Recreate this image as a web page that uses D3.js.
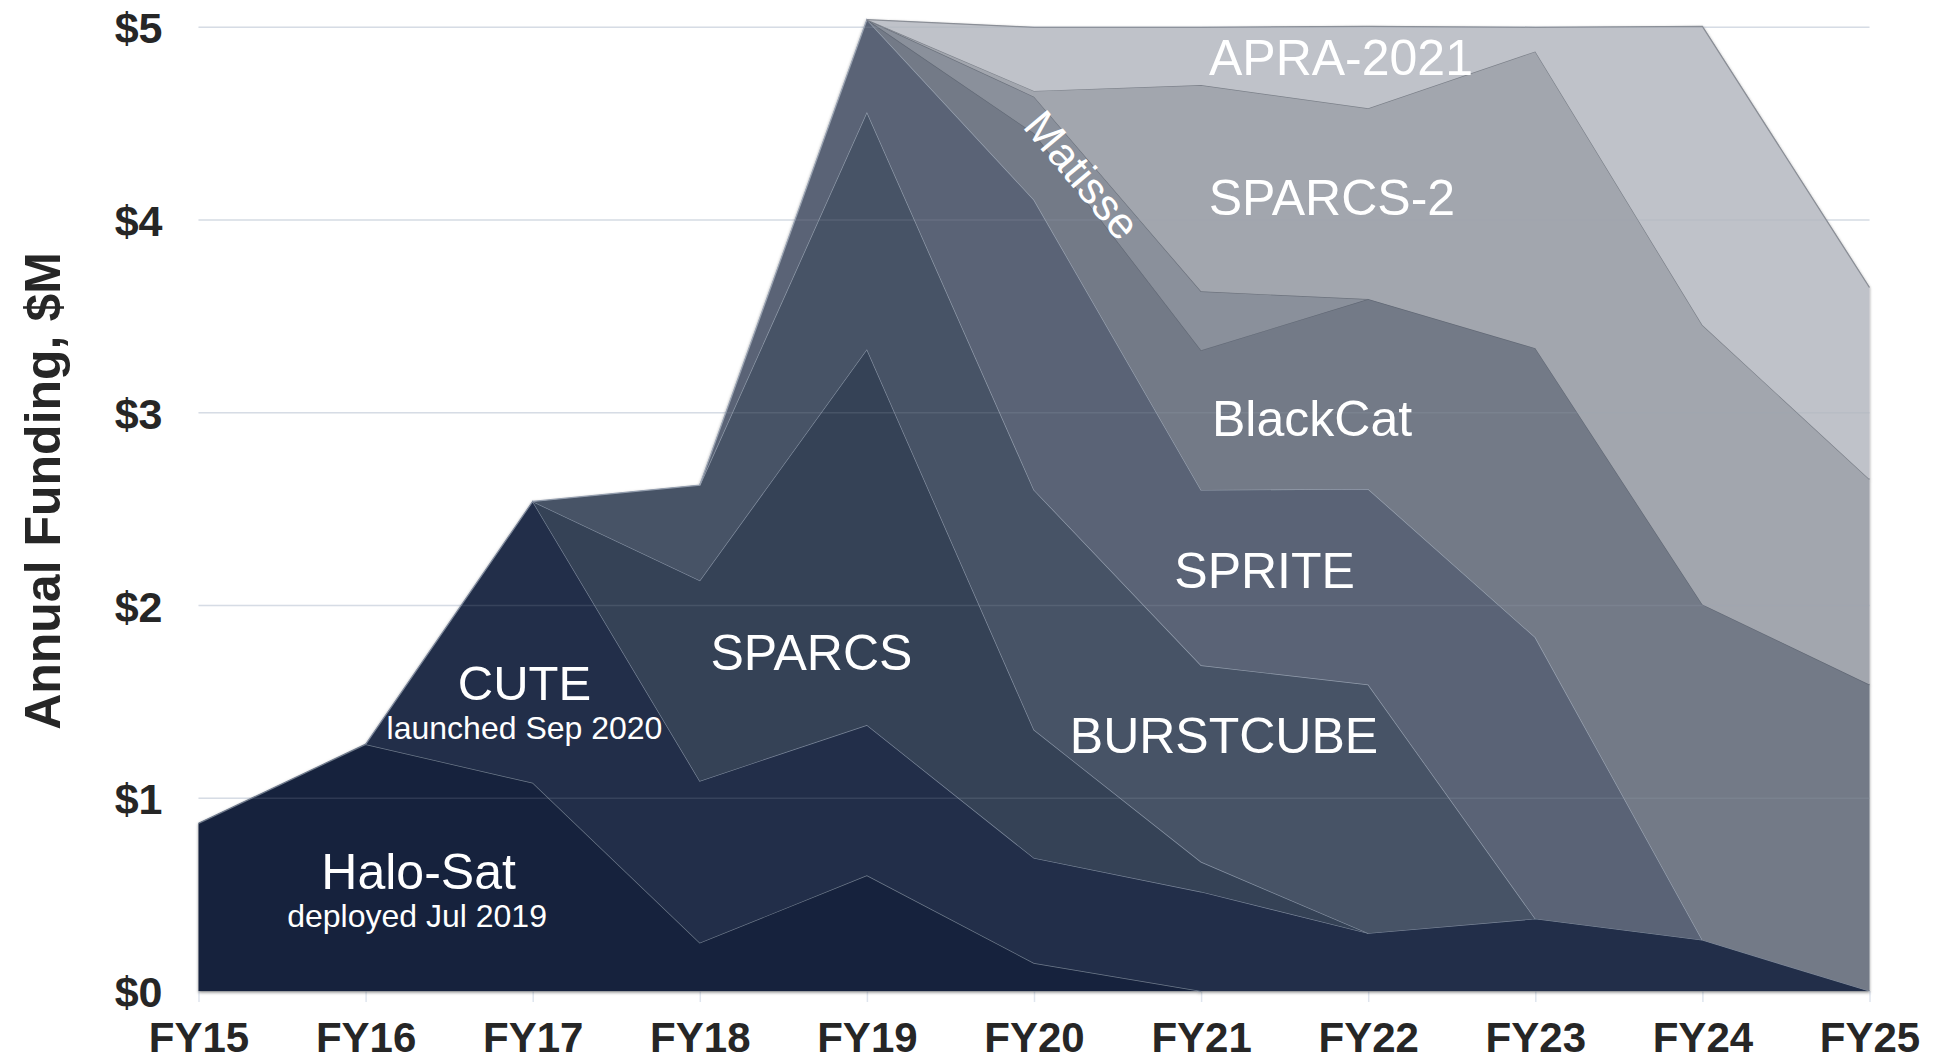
<!DOCTYPE html>
<html>
<head>
<meta charset="utf-8">
<script src="https://cdn.jsdelivr.net/npm/d3@7"></script>
<style>
	body { margin: 0; background: #fff; }
	svg { display: block; }
	.axis text { font-family: "Liberation Sans", Arial, sans-serif; font-weight: bold; font-size: 43px; fill: #262626; }
	.x.axis text { font-size: 42px; }
	.axis path.domain { display: none; }
	.x.axis line { stroke: #dfe5ee; stroke-width: 1.5px; }
	.label { font-family: "Liberation Sans", Arial, sans-serif; fill: #fff; text-anchor: middle; }
</style>
</head>
<body>
<div id="graphic"></div>
<script>
// fiscal years along the bottom
const years = ['FY15', 'FY16', 'FY17', 'FY18', 'FY19', 'FY20', 'FY21', 'FY22', 'FY23', 'FY24', 'FY25'];

// annual funding per mission, $M
const haloSat   = [0.87, 1.28, 1.08, 0.25, 0.60, 0.145, 0, 0, 0, 0, 0];
const cute      = [0, 0, 1.46, 0.84, 0.78, 0.545, 0.515, 0.30, 0.375, 0.265, 0];
const sparcs    = [0, 0, 0, 1.04, 1.95, 0.665, 0.155, 0, 0, 0, 0];
const burstcube = [0, 0, 0, 0.495, 1.23, 1.245, 1.02, 1.29, 0, 0, 0];
const sprite    = [0, 0, 0, 0, 0.48, 1.505, 0.91, 1.015, 1.46, 0, 0];
const blackcat  = [0, 0, 0, 0, 0, 0.345, 0.725, 0.985, 1.50, 1.74, 1.59];
const matisse   = [0, 0, 0, 0, 0, 0.19, 0.305, 0, 0, 0, 0];
const sparcs2   = [0, 0, 0, 0, 0, 0.03, 1.07, 0.99, 1.54, 1.45, 1.065];
const apra2021  = [0, 0, 0, 0, 0, 0.33, 0.30, 0.425, 0.125, 1.55, 0.995];

const seriesNames = ['Halo-Sat', 'CUTE', 'SPARCS', 'BURSTCUBE', 'SPRITE', 'BlackCat', 'Matisse', 'SPARCS-2', 'APRA-2021'];
const seriesValues = [haloSat, cute, sparcs, burstcube, sprite, blackcat, matisse, sparcs2, apra2021];
const yTicks = [0, 1, 2, 3, 4, 5];

const fills = ['#17233c', '#212f49', '#344257', '#475366', '#5a6476', '#737a87', '#8a909b', '#a2a6ae', '#bfc2c9'];
const edges = ['#6f7a8c', '#7d879a', '#8792a3', '#939dad', '#9aa3b2', '#626976', '#6c727d', '#7c818a', '#8a8e96'];

// label anchors, in year-index / $M units
const labels = [
	{ text: 'Halo-Sat', x: 1.317, y: 0.53, size: 50 },
	{ text: 'deployed Jul 2019', x: 1.308, y: 0.332, size: 32 },
	{ text: 'CUTE', x: 1.951, y: 1.51, size: 49 },
	{ text: 'launched Sep 2020', x: 1.951, y: 1.307, size: 32 },
	{ text: 'SPARCS', x: 3.668, y: 1.665, size: 50 },
	{ text: 'BURSTCUBE', x: 6.137, y: 1.235, size: 50 },
	{ text: 'SPRITE', x: 6.38, y: 2.091, size: 50 },
	{ text: 'BlackCat', x: 6.664, y: 2.882, size: 50 },
	{ text: 'SPARCS-2', x: 6.783, y: 4.026, size: 50 },
	{ text: 'APRA-2021', x: 6.837, y: 4.75, size: 50 },
	{ text: 'Matisse', x: 5.29, y: 4.234, size: 44, angle: 50 }
];

const width = 1934, height = 1064;
const margin = { top: 27.3, right: 64.5, bottom: 73, left: 198.5 };
const chart_width = width - margin.left - margin.right;
const chart_height = height - margin.top - margin.bottom;

// tidy table: one row per year
const table = years.map((fy, i) => {
	const row = { i: i, fy: fy };
	seriesNames.forEach((name, k) => { row[name] = seriesValues[k][i]; });
	return row;
});

const stacked = d3.stack().keys(seriesNames)(table);

const x = d3.scaleLinear().domain([0, years.length - 1]).range([0, chart_width]);
const y = d3.scaleLinear().domain([0, 5]).range([chart_height, 0]);

const svg = d3.select('#graphic').append('svg')
	.attr('width', width)
	.attr('height', height);

const defs = svg.append('defs');
defs.append('filter')
	.attr('id', 'shadow')
	.attr('x', '-5%').attr('y', '-5%').attr('width', '110%').attr('height', '110%')
	.append('feDropShadow')
	.attr('dx', 0).attr('dy', 1.5)
	.attr('stdDeviation', 1.6)
	.attr('flood-color', '#000')
	.attr('flood-opacity', 0.45);

const g = svg.append('g').attr('transform', 'translate(' + margin.left + ',' + margin.top + ')');

// gridlines under the areas
g.append('g')
	.selectAll('line')
	.data(yTicks)
	.join('line')
	.attr('x1', 0).attr('x2', chart_width)
	.attr('y1', d => y(d)).attr('y2', d => y(d))
	.attr('stroke', '#e3e8ef')
	.attr('stroke-width', 1.5);

// x axis ticks and labels
const xAxis = g.append('g')
	.attr('class', 'x axis')
	.attr('transform', 'translate(0,' + chart_height + ')')
	.call(d3.axisBottom(x)
		.tickValues(d3.range(years.length))
		.tickFormat(i => years[i])
		.tickSize(11));
xAxis.selectAll('text').attr('y', 61).attr('dy', 0);

// y axis labels
const yAxis = g.append('g')
	.attr('class', 'y axis')
	.call(d3.axisLeft(y)
		.tickValues(yTicks)
		.tickFormat(d => '$' + d)
		.tickSize(0)
		.tickPadding(36));
yAxis.selectAll('text').attr('dy', '0.36em');

// only draw a layer where it exists, plus the zero points on either side
function span(values) {
	const first = values.findIndex(v => v > 0);
	let last = values.length - 1;
	while (last > 0 && !(values[last] > 0)) last--;
	return [Math.max(0, first - 1), Math.min(values.length - 1, last + 1)];
}

const layers = g.append('g').attr('filter', 'url(#shadow)');

stacked.forEach((layer, k) => {
	const [a, b] = span(seriesValues[k]);
	const defined = (d, i) => i >= a && i <= b;
	const area = d3.area()
		.defined(defined)
		.x((d, i) => x(i))
		.y0(d => y(d[0]))
		.y1(d => y(d[1]));
	const top = d3.line()
		.defined(defined)
		.x((d, i) => x(i))
		.y(d => y(d[1]));

	layers.append('path')
		.attr('d', area(layer))
		.attr('fill', fills[k]);
	layers.append('path')
		.attr('d', top(layer))
		.attr('fill', 'none')
		.attr('stroke', edges[k])
		.attr('stroke-width', 1.3);
});

// faint gridlines showing through the areas
g.append('g')
	.selectAll('line')
	.data(yTicks.slice(1))
	.join('line')
	.attr('x1', 0).attr('x2', chart_width)
	.attr('y1', d => y(d)).attr('y2', d => y(d))
	.attr('stroke', '#9aa6b8')
	.attr('stroke-opacity', 0.18)
	.attr('stroke-width', 1.5);

// series labels
g.append('g')
	.selectAll('text')
	.data(labels)
	.join('text')
	.attr('class', 'label')
	.attr('font-size', d => d.size + 'px')
	.attr('dominant-baseline', d => d.angle ? 'central' : 'auto')
	.attr('transform', d => 'translate(' + x(d.x) + ',' + y(d.y) + ')' + (d.angle ? ' rotate(' + d.angle + ')' : ''))
	.text(d => d.text);

// y axis title
svg.append('text')
	.attr('transform', 'translate(60,491) rotate(-90)')
	.attr('text-anchor', 'middle')
	.style('font-family', '"Liberation Sans", Arial, sans-serif')
	.style('font-weight', 'bold')
	.style('font-size', '50px')
	.style('fill', '#262626')
	.text('Annual Funding, $M');
</script>
</body>
</html>
